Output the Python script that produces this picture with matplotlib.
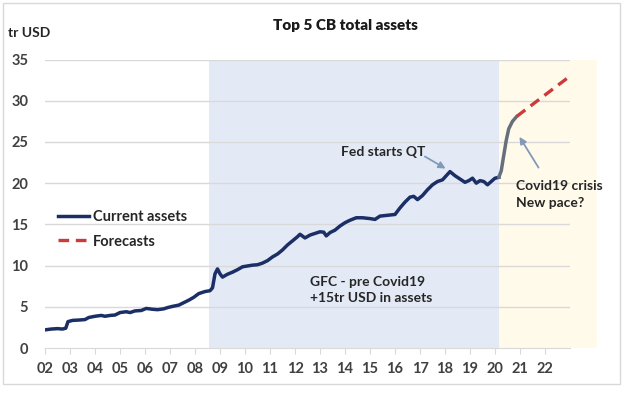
import matplotlib
matplotlib.use("Agg")
import matplotlib.pyplot as plt
from matplotlib.lines import Line2D
from matplotlib.patches import Rectangle

plt.rcParams['font.family'] = ['Lato', 'DejaVu Sans']

# ---- data ----
years = [2002.0, 2002.25, 2002.5, 2002.7, 2002.83, 2002.92, 2003.1, 2003.4, 2003.6, 2003.75,
         2004.0, 2004.25, 2004.4, 2004.6, 2004.8, 2005.0, 2005.25, 2005.4, 2005.6, 2005.85,
         2006.05, 2006.3, 2006.5, 2006.75, 2006.9, 2007.1, 2007.35, 2007.55, 2007.75, 2007.95,
         2008.15, 2008.4, 2008.6, 2008.7, 2008.8, 2008.9, 2009.0, 2009.1, 2009.3, 2009.5,
         2009.7, 2009.9, 2010.1, 2010.3, 2010.5, 2010.7, 2010.9, 2011.1, 2011.3, 2011.5,
         2011.7, 2011.9, 2012.1, 2012.2, 2012.4, 2012.6, 2012.8, 2013.0, 2013.15, 2013.25,
         2013.4, 2013.6, 2013.8, 2014.0, 2014.2, 2014.45, 2014.7, 2015.0, 2015.2, 2015.4,
         2015.7, 2016.0, 2016.2, 2016.4, 2016.6, 2016.75, 2016.9, 2017.1, 2017.3, 2017.5,
         2017.7, 2017.9, 2018.05, 2018.2, 2018.4, 2018.6, 2018.8, 2018.95, 2019.1, 2019.25,
         2019.4, 2019.55, 2019.7, 2019.85, 2020.0, 2020.15]
assets = [2.2, 2.3, 2.35, 2.3, 2.4, 3.2, 3.35, 3.4, 3.45, 3.7,
          3.85, 3.95, 3.85, 3.95, 4.0, 4.3, 4.4, 4.3, 4.5, 4.55,
          4.8, 4.7, 4.65, 4.75, 4.9, 5.05, 5.2, 5.5, 5.8, 6.15,
          6.6, 6.85, 6.95, 7.3, 9.0, 9.6, 9.0, 8.6, 8.95, 9.2,
          9.5, 9.85, 9.95, 10.05, 10.1, 10.3, 10.6, 11.05, 11.4, 11.9,
          12.5, 13.0, 13.5, 13.8, 13.35, 13.7, 13.9, 14.1, 14.05, 13.6,
          14.0, 14.3, 14.8, 15.2, 15.5, 15.8, 15.8, 15.7, 15.6, 16.0,
          16.1, 16.2, 17.0, 17.7, 18.3, 18.4, 18.0, 18.5, 19.2, 19.8,
          20.2, 20.4, 20.9, 21.4, 20.9, 20.5, 20.1, 20.3, 20.6, 20.0,
          20.3, 20.2, 19.8, 20.2, 20.6, 20.7]
covid_years = [2020.15, 2020.25, 2020.33, 2020.45, 2020.55, 2020.7, 2020.87]
covid_assets = [20.7, 21.5, 23.0, 25.2, 26.6, 27.5, 28.1]
fc_years = [2020.87, 2023.05]
fc_values = [28.1, 33.1]

tick_years = list(range(2002, 2023))
tick_labels = [f"{y % 100:02d}" for y in tick_years]
y_ticks = [0, 5, 10, 15, 20, 25, 30, 35]

gfc_span = (2008.56, 2020.16)
covid_span = (2020.16, 2024.1)

# ---- figure ----
W, H = 625, 397
fig = plt.figure(figsize=(W / 100, H / 100), dpi=100)
fig.patch.set_facecolor('white')
frame = Rectangle((3 / W, 1 - 384 / H), 617 / W, 381 / H, transform=fig.transFigure,
                  facecolor='white', edgecolor='#d9d9d9', lw=1.0, zorder=-5)
fig.patches.append(frame)

ax = fig.add_axes([45 / W, 1 - 348 / H, 525 / W, 288.5 / H])
ax.set_zorder(2)
ax.set_facecolor('none')
ax.set_xlim(2002, 2023)
ax.set_ylim(0, 35)

blue_span = ax.axvspan(*gfc_span, facecolor='#e3eaf6', edgecolor='none', zorder=0)
yel_span = ax.axvspan(*covid_span, facecolor='#fffaea', edgecolor='none', zorder=0)
yel_span.set_clip_on(False)

for yv in y_ticks[1:]:
    ax.axhline(yv, color='#d9d9d9', lw=1.0, zorder=1)

ax.plot(years, assets, color='#1b2f66', lw=2.5, zorder=3, solid_joinstyle='round')
ax.plot(covid_years, covid_assets, color='#66707c', lw=2.5, zorder=3, solid_capstyle='round')
ax.plot(fc_years, fc_values, color='#cc3b3b', lw=2.4, ls=(0, (3.2, 2)), zorder=3)

for s in ['top', 'right', 'left']:
    ax.spines[s].set_visible(False)
ax.spines['bottom'].set_color('#d9d9d9')

ax.set_xticks(tick_years)
ax.set_xticklabels(tick_labels)
ax.set_yticks(y_ticks)
ax.tick_params(axis='y', length=0, pad=12, labelsize=10.5, labelcolor='#404040')
ax.tick_params(axis='x', length=4, color='#d9d9d9', pad=6, labelsize=10.5, labelcolor='#404040')
for lab in ax.get_xticklabels() + ax.get_yticklabels():
    lab.set_fontweight('bold')

# title and unit
fig.text(345 / W, 1 - 25 / H, 'Top 5 CB total assets', ha='center', va='center',
         fontsize=11, fontweight='heavy', color='#1a1a1a')
fig.text(8 / W, 1 - 33 / H, 'tr USD', ha='left', va='center', fontsize=10,
         fontweight='bold', color='#262626')

# legend
handles = [Line2D([], [], color='#1b2f66', lw=2.5),
           Line2D([], [], color='#cc3b3b', lw=2.4, ls=(0, (3.2, 2)))]
leg = ax.legend(handles, ['Current assets', 'Forecasts'], loc='upper left',
                bbox_to_anchor=(0.0, 0.525), frameon=False, handlelength=2.1,
                handletextpad=0.3, labelspacing=0.75, prop={'size': 10.5, 'weight': 'bold'})
for t in leg.get_texts():
    t.set_color('#262626')

# annotations
arrow_col = '#8299ba'
ax.text(2015.52, 23.8, 'Fed starts QT', ha='center', va='center', fontsize=10,
        fontweight='bold', color='#262626')
ax.annotate('', xy=(2018.12, 21.6), xytext=(2017.1, 23.4),
            arrowprops=dict(arrowstyle='-|>', color=arrow_col, lw=1.3, mutation_scale=10))
ax.text(2020.84, 18.6, 'Covid19 crisis\nNew pace?', ha='left', va='center', fontsize=10,
        fontweight='bold', color='#262626', linespacing=1.45)
ax.annotate('', xy=(2020.92, 25.9), xytext=(2021.8, 21.6),
            arrowprops=dict(arrowstyle='-|>', color=arrow_col, lw=1.3, mutation_scale=10))
ax.text(2012.6, 7.05, 'GFC - pre Covid19\n+15tr USD in assets', ha='left', va='center',
        fontsize=10, fontweight='bold', color='#262626', linespacing=1.45)

fig.savefig('out.png', dpi=100)
